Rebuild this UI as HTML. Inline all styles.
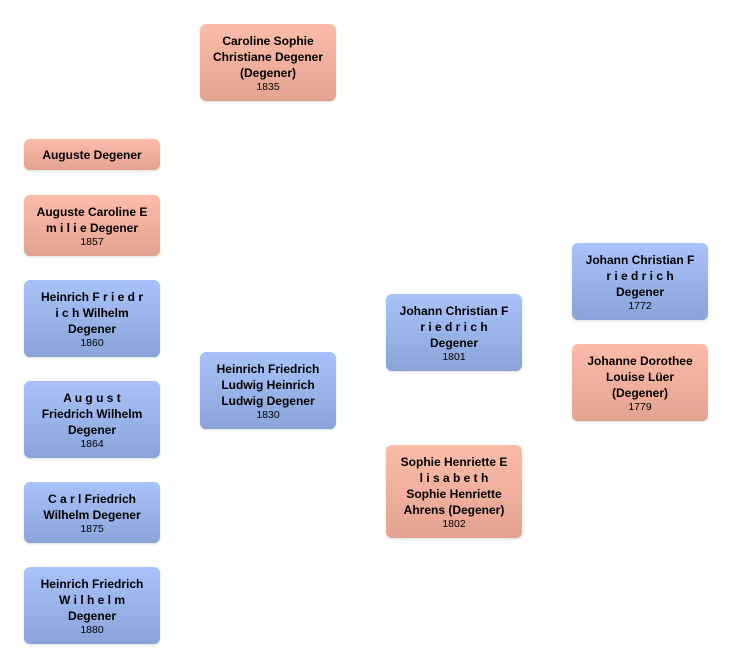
<!DOCTYPE html>
<html><head><meta charset="utf-8"><style>
body{margin:0;width:732px;height:668px;background:#fff;position:relative;font-family:"Liberation Sans",sans-serif;overflow:hidden}
.b{position:absolute;width:136px;border-radius:6px;display:flex;flex-direction:column;justify-content:center;align-items:center;text-align:center;box-shadow:0 1px 2px rgba(0,0,0,.15);color:#000}
.f{background:linear-gradient(#fdbcaa,#e4a291)}
.m{background:linear-gradient(#a9c3fa,#8aa3d8)}
.n{font-weight:bold;font-size:12px;line-height:16px;padding:0 4px}
.y{font-size:10.5px;line-height:12px}
</style></head><body>
<div class="b f" style="left:200px;top:24px;height:77px"><div class="n">Caroline Sophie Christiane Degener (Degener)</div><div class="y">1835</div></div>
<div class="b f" style="left:24px;top:139px;height:31px"><div class="n">Auguste Degener</div></div>
<div class="b f" style="left:24px;top:195px;height:61px"><div class="n">Auguste Caroline E<br>m i l i e Degener</div><div class="y">1857</div></div>
<div class="b m" style="left:24px;top:280px;height:77px"><div class="n">Heinrich F r i e d r<br>i c h Wilhelm<br>Degener</div><div class="y">1860</div></div>
<div class="b m" style="left:24px;top:381px;height:77px"><div class="n">A u g u s t<br>Friedrich Wilhelm<br>Degener</div><div class="y">1864</div></div>
<div class="b m" style="left:24px;top:482px;height:61px"><div class="n">C a r l Friedrich<br>Wilhelm Degener</div><div class="y">1875</div></div>
<div class="b m" style="left:24px;top:567px;height:77px"><div class="n">Heinrich Friedrich<br>W i l h e l m<br>Degener</div><div class="y">1880</div></div>
<div class="b m" style="left:200px;top:352px;height:77px"><div class="n">Heinrich Friedrich<br>Ludwig Heinrich<br>Ludwig Degener</div><div class="y">1830</div></div>
<div class="b m" style="left:386px;top:294px;height:77px"><div class="n">Johann Christian F<br>r i e d r i c h<br>Degener</div><div class="y">1801</div></div>
<div class="b f" style="left:386px;top:445px;height:93px"><div class="n">Sophie Henriette E<br>l i s a b e t h<br>Sophie Henriette<br>Ahrens (Degener)</div><div class="y">1802</div></div>
<div class="b m" style="left:572px;top:243px;height:77px"><div class="n">Johann Christian F<br>r i e d r i c h<br>Degener</div><div class="y">1772</div></div>
<div class="b f" style="left:572px;top:344px;height:77px"><div class="n">Johanne Dorothee<br>Louise Lüer<br>(Degener)</div><div class="y">1779</div></div>
</body></html>
